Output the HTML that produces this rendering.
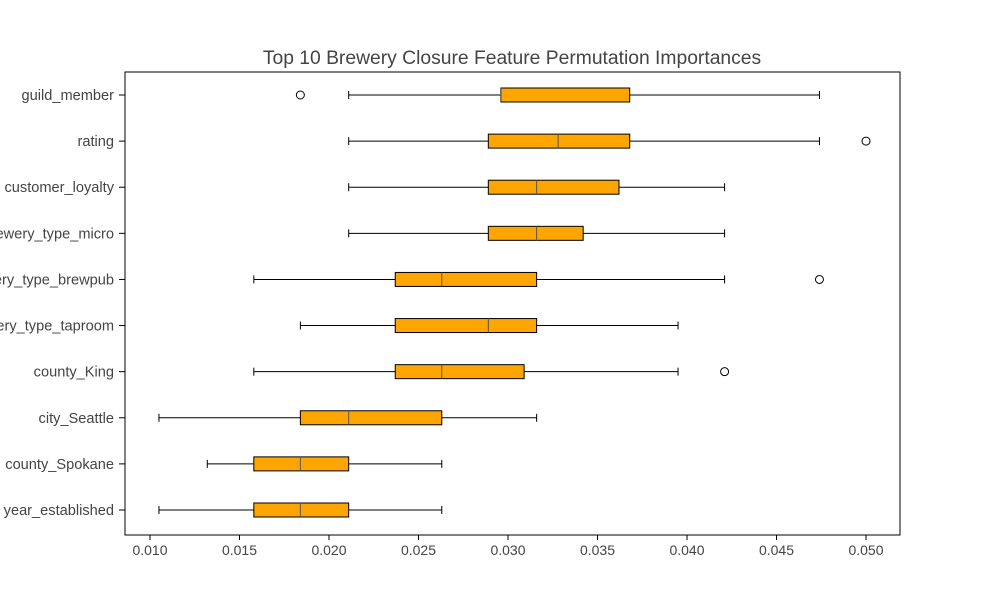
<!DOCTYPE html>
<html><head><meta charset="utf-8"><style>
body{margin:0;background:#fff;}
svg text{font-family:"Liberation Sans","DejaVu Sans",sans-serif;fill:#444;}
</style></head><body>
<svg id="chart" width="1000" height="600" xmlns="http://www.w3.org/2000/svg">
<rect width="1000" height="600" fill="#fff"/>
<text x="512" y="64" font-size="19.3" text-anchor="middle">Top 10 Brewery Closure Feature Permutation Importances</text>
<g id="marks"></g>
<rect x="125" y="72" width="775" height="463" fill="none" stroke="#000" stroke-width="1"/>
<g id="axes"></g>
</svg>
<script>
const features = ["guild_member","rating","customer_loyalty","brewery_type_micro","brewery_type_brewpub","brewery_type_taproom","county_King","city_Seattle","county_Spokane","year_established"];
const whiskerLow = [0.0211,0.0211,0.0211,0.0211,0.0158,0.0184,0.0158,0.0105,0.0132,0.0105];
const q1 = [0.0296,0.0289,0.0289,0.0289,0.0237,0.0237,0.0237,0.0184,0.0158,0.0158];
const medians = [0.0296,0.0328,0.0316,0.0316,0.0263,0.0289,0.0263,0.0211,0.0184,0.0184];
const q3 = [0.0368,0.0368,0.0362,0.0342,0.0316,0.0316,0.0309,0.0263,0.0211,0.0211];
const whiskerHigh = [0.0474,0.0474,0.0421,0.0421,0.0421,0.0395,0.0395,0.0316,0.0263,0.0263];
const outliers = [[0.0184],[0.0500],[],[],[0.0474],[],[0.0421],[],[],[]];
const xTicks = [0.010,0.015,0.020,0.025,0.030,0.035,0.040,0.045,0.050];

const NS="http://www.w3.org/2000/svg";
const xs = v => 150 + (v-0.010)*(716/0.040);
const ys = i => 95 + i*(415/9);
function mk(tag, attrs, parent){const e=document.createElementNS(NS,tag);for(const k in attrs)e.setAttribute(k,attrs[k]);parent.appendChild(e);return e;}
const marks=document.getElementById('marks'), axes=document.getElementById('axes');
features.forEach((f,i)=>{
  const y=ys(i);
  const g=mk('g',{},marks);
  
  
  mk('line',{x1:xs(whiskerLow[i]),x2:xs(q1[i]),y1:y,y2:y,stroke:'#000','stroke-width':1},g);
  mk('line',{x1:xs(q3[i]),x2:xs(whiskerHigh[i]),y1:y,y2:y,stroke:'#000','stroke-width':1},g);
  mk('line',{x1:xs(whiskerLow[i]),x2:xs(whiskerLow[i]),y1:y-4,y2:y+4,stroke:'#000','stroke-width':1},g);
  mk('line',{x1:xs(whiskerHigh[i]),x2:xs(whiskerHigh[i]),y1:y-4,y2:y+4,stroke:'#000','stroke-width':1},g);
  mk('rect',{x:xs(q1[i]),y:y-7,width:xs(q3[i])-xs(q1[i]),height:14,fill:'#FFA500',stroke:'#000','stroke-width':1},g);
  mk('line',{x1:xs(medians[i]),x2:xs(medians[i]),y1:y-7,y2:y+7,stroke:'#555','stroke-width':1},g);
  outliers[i].forEach(o=>{
    const c=mk('circle',{cx:xs(o),cy:y,r:4,fill:'none',stroke:'#000','stroke-width':1},g);
    
    
  });
  mk('line',{x1:119,x2:125,y1:y,y2:y,stroke:'#000'},axes);
  const t=mk('text',{x:114,y:y+5,'font-size':14.6,'text-anchor':'end'},axes);
  t.textContent=f;
  
  
});
xTicks.forEach(v=>{
  mk('line',{x1:xs(v),x2:xs(v),y1:535,y2:540,stroke:'#000'},axes);
  const t=mk('text',{x:xs(v),y:555,'font-size':14,'text-anchor':'middle'},axes);
  t.textContent=v.toFixed(3);
  
  
});
</script>
</body></html>
